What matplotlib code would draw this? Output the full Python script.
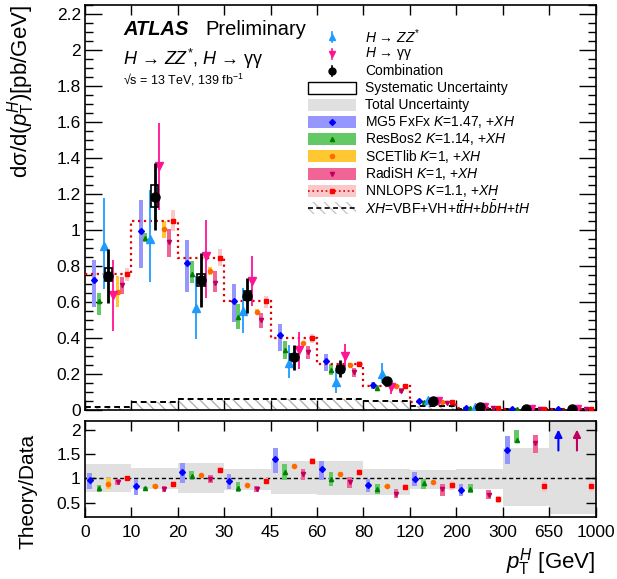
import numpy as np
import matplotlib
matplotlib.use("Agg")
from matplotlib import pyplot as plt
from matplotlib.lines import Line2D
from matplotlib.patches import Rectangle
from matplotlib.ticker import FixedLocator, MultipleLocator, FuncFormatter

plt.rcParams["font.family"] = ["Liberation Sans", "DejaVu Sans"]
plt.rcParams["mathtext.fontset"] = "custom"
plt.rcParams["mathtext.rm"] = "Liberation Sans"
plt.rcParams["mathtext.it"] = "Liberation Sans:italic"
plt.rcParams["mathtext.bf"] = "Liberation Sans:bold"

nan = np.nan

# pT bin edges, drawn with equal width
bin_labels = ["0", "10", "20", "30", "45", "60", "80", "120", "200", "300", "650", "1000"]

# combination [pb/GeV]
comb = [0.744, 1.181, 0.719, 0.633, 0.293, 0.226, 0.157, 0.046, 0.012, 0.003, 0.0004]
comb_lo = [0.593, 1.00, 0.569, 0.537, 0.222, 0.180, 0.139, 0.040, 0.010, 0.002, 0.0002]
comb_hi = [0.894, 1.37, 0.870, 0.731, 0.361, 0.278, 0.176, 0.052, 0.014, 0.004, 0.0006]
comb_syst_lo = [0.713, 1.126, 0.689, 0.611, 0.274, 0.211, 0.150, 0.044, 0.011, 0.0025, 0.0003]
comb_syst_hi = [0.787, 1.250, 0.756, 0.657, 0.311, 0.241, 0.165, 0.048, 0.013, 0.0035, 0.0005]

# H -> ZZ*
zz = [0.907, 0.948, 0.563, 0.546, 0.259, 0.152, 0.200, 0.055, 0.016, nan, nan]
zz_lo = [0.670, 0.707, 0.390, 0.426, 0.176, 0.093, 0.148, 0.037, 0.010, nan, nan]
zz_hi = [1.176, 1.220, 0.741, 0.676, 0.361, 0.219, 0.259, 0.065, 0.022, nan, nan]

# H -> gamma gamma
gg = [0.635, 1.352, 0.856, 0.713, 0.333, 0.300, 0.124, 0.046, 0.015, 0.004, 0.001]
gg_lo = [0.435, 1.110, 0.620, 0.574, 0.226, 0.226, 0.089, 0.040, 0.012, 0.003, 0.0005]
gg_hi = [0.833, 1.593, 1.056, 0.852, 0.430, 0.367, 0.150, 0.052, 0.018, 0.005, 0.002]

# XH contribution [pb/GeV]
xh = [0.015, 0.043, 0.056, 0.061, 0.057, 0.056, 0.045, 0.018, 0.004, 0.001, 0.0002]

# theory / data (centre, band low, band high)
mg5_r = [0.965, 0.84, 1.13, 0.95, 1.41, 1.19, 0.86, 0.98, 0.76, 1.58, 3.0]
mg5_r_lo = [0.77, 0.665, 0.91, 0.77, 1.12, 0.96, 0.72, 0.84, 0.64, 1.30, nan]
mg5_r_hi = [1.12, 0.985, 1.31, 1.10, 1.63, 1.36, 0.98, 1.13, 0.88, 1.87, nan]

rb_r = [0.81, 0.81, 1.05, 0.81, 1.13, 0.98, 0.77, 0.91, 0.79, 1.80, nan]
rb_r_lo = [0.71, 0.79, 0.98, 0.71, 0.96, 0.85, 0.67, 0.79, 0.70, 1.73, nan]
rb_r_hi = [0.87, 0.83, 1.15, 0.93, 1.30, 1.13, 0.88, 0.98, 0.88, 2.01, nan]

sc_r = [0.88, 0.85, 1.07, 0.86, 1.26, 1.10, 0.84, 0.93, nan, nan, nan]
sc_r_lo = [0.77, 0.81, 1.04, 0.84, 1.23, 1.07, 0.81, 0.91, nan, nan, nan]
sc_r_hi = [1.00, 0.89, 1.10, 0.88, 1.29, 1.13, 0.87, 0.95, nan, nan, nan]

rs_r = [0.93, 0.79, 0.98, 0.79, 1.10, 0.93, 0.67, 0.78, 0.65, 1.73, 3.0]
rs_r_lo = [0.86, 0.72, 0.91, 0.72, 0.96, 0.81, 0.60, 0.63, 0.57, 1.52, nan]
rs_r_hi = [0.99, 0.85, 1.07, 0.85, 1.20, 1.03, 0.77, 0.88, 0.76, 1.90, nan]

nn_r = [1.01, 0.89, 1.17, 0.95, 1.36, 1.13, 0.83, 0.87, 0.57, 0.85, 0.84]
nn_r_lo = [0.96, 0.84, 1.11, 0.89, 1.27, 1.05, 0.78, 0.75, 0.50, 0.72, 0.72]
nn_r_hi = [1.06, 0.94, 1.24, 1.00, 1.43, 1.20, 0.89, 0.94, 0.63, 0.94, 0.94]

# total uncertainty of the data in the ratio
tot_r_lo = [0.72, 0.79, 0.70, 0.76, 0.67, 0.66, 0.66, 0.79, 0.77, 0.43, 0.27]
tot_r_hi = [1.30, 1.22, 1.31, 1.20, 1.36, 1.36, 1.20, 1.18, 1.20, 1.62, 2.50]

zz_c = "#1e9bff"
gg_c = "#ff1493"
xh_hatch = "\\\\\\"

# name, ratio, lo, hi, band colour, marker colour, marker, offset top, offset ratio
theories = [
    (r"MG5 FxFx $K$=1.47, +$XH$", mg5_r, mg5_r_lo, mg5_r_hi, "#9696ff", "#0000ff", "D", 0.2, 0.1),
    (r"ResBos2 $K$=1.14, +$XH$", rb_r, rb_r_lo, rb_r_hi, "#64c864", "#008000", "^", 0.3, 0.3),
    (r"SCETlib $K$=1, +$XH$", sc_r, sc_r_lo, sc_r_hi, "#ffc832", "#ff6a00", "o", 0.7, 0.5),
    (r"RadiSH $K$=1, +$XH$", rs_r, rs_r_lo, rs_r_hi, "#f06496", "#c00060", "v", 0.8, 0.7),
    (r"NNLOPS $K$=1.1, +$XH$", nn_r, nn_r_lo, nn_r_hi, "#fac8c8", "#ff0000", "s", 0.9, 0.9),
]
arrow_off = {"#0000ff": 0.2, "#c00060": 0.6}

fig = plt.figure(figsize=(6.17, 5.79), dpi=100)
ax = fig.add_axes([0.1378, 0.2927, 0.8274, 0.6987])
rax = fig.add_axes([0.1378, 0.1071, 0.8274, 0.1658])

n = len(comb)
edges = np.arange(n + 1)
left = np.arange(n)
comb_a = np.array(comb)
ratio_top = 2.19

# XH hatched area
ax.bar(left, xh, width=1, align="edge", facecolor="none", edgecolor="#b4b4b4",
       hatch=xh_hatch, linewidth=0, zorder=1)
ax.hlines(xh, left, left + 1, colors="k", linestyles=(0, (3, 2)), linewidth=1.4, zorder=2)

# total uncertainty band in ratio
rax.bar(left, np.array(tot_r_hi) - np.array(tot_r_lo), bottom=tot_r_lo, width=1,
        align="edge", color="#e0e0e0", linewidth=0, zorder=1)
rax.axhline(1, color="k", linestyle=(0, (3, 2)), linewidth=1, zorder=2)

for label, r, lo, hi, band, mc, mk, off_t, off_r in theories:
    r = np.array(r)
    lo = np.array(lo)
    hi = np.array(hi)
    # top panel: theory = ratio * data
    ax.bar(left + off_t, (hi - lo) * comb_a, bottom=lo * comb_a, width=0.085,
           color=band, linewidth=0, zorder=3)
    ax.plot(left + off_t, r * comb_a, ls="none", marker=mk, color=mc, ms=3, zorder=4)
    # ratio panel
    rax.bar(left + off_r, hi - lo, bottom=lo, width=0.1, color=band, linewidth=0, zorder=3)
    inside = r < ratio_top
    rax.plot((left + off_r)[inside], r[inside], ls="none", marker=mk, color=mc, ms=3, zorder=4)
    for i in np.where(~inside & ~np.isnan(r))[0]:
        x = i + arrow_off.get(mc, off_r)
        rax.annotate("", xy=(x, 2.07), xytext=(x, 1.52),
                     arrowprops=dict(arrowstyle="-|>", color=mc, lw=1.5, mutation_scale=11))

# NNLOPS step line
ax.stairs(np.array(nn_r) * comb_a, edges, color="#e00000", linestyle=":", linewidth=1.6,
          baseline=None, zorder=3)

# data
zz_a, gg_a = np.array(zz), np.array(gg)
ax.errorbar(left + 0.4, zz_a, yerr=[zz_a - np.array(zz_lo), np.array(zz_hi) - zz_a],
            fmt="^", color=zz_c, ms=6, elinewidth=1.3, capsize=0, zorder=5)
ax.errorbar(left + 0.6, gg_a, yerr=[gg_a - np.array(gg_lo), np.array(gg_hi) - gg_a],
            fmt="v", color=gg_c, ms=6, elinewidth=1.3, capsize=0, zorder=5)
ax.bar(left + 0.5, np.array(comb_syst_hi) - np.array(comb_syst_lo), bottom=comb_syst_lo,
       width=0.16, fill=False, edgecolor="k", linewidth=1.2, zorder=6)
ax.errorbar(left + 0.5, comb_a, yerr=[comb_a - np.array(comb_lo), np.array(comb_hi) - comb_a],
            fmt="o", color="k", ms=6.5, elinewidth=2, capsize=0, zorder=7)

# axes
fmt = FuncFormatter(lambda v, p: f"{v:g}")
for a in (ax, rax):
    a.set_xlim(0, n)
    a.xaxis.set_major_locator(FixedLocator(edges))
    a.tick_params(axis="both", which="both", direction="in", top=True, right=True,
                  labelsize=12.5, width=1)
    a.tick_params(axis="x", which="major", length=7)
    for s in a.spines.values():
        s.set_linewidth(1.2)
ax.tick_params(labelbottom=False)
ax.set_ylim(0, 2.25)
ax.yaxis.set_major_locator(MultipleLocator(0.2))
ax.yaxis.set_minor_locator(MultipleLocator(0.05))
ax.yaxis.set_major_formatter(fmt)
ax.tick_params(axis="y", which="major", length=12, pad=3)
ax.tick_params(axis="y", which="minor", length=6)

rax.set_ylim(0.2, ratio_top)
rax.yaxis.set_major_locator(FixedLocator([0.5, 1, 1.5, 2]))
rax.yaxis.set_major_formatter(fmt)
rax.tick_params(axis="y", which="major", length=7, pad=3)
rax.set_xticklabels(bin_labels)
rax.tick_params(axis="x", pad=6)

ax.set_ylabel("dσ/d($p_{\\mathrm{T}}^{H}$)[pb/GeV]", fontsize=16, loc="top")
ax.yaxis.set_label_coords(-0.094, 1.0)
rax.set_ylabel("Theory/Data", fontsize=15)
rax.yaxis.set_label_coords(-0.094, 0.27)
rax.set_xlabel("$p_{\\mathrm{T}}^{H}$ [GeV]", fontsize=16, loc="right")
rax.xaxis.set_label_coords(1.0, -0.3)

# labels
ax.text(0.075, 0.94, "ATLAS", fontsize=14.5, fontweight="bold", fontstyle="italic",
        transform=ax.transAxes, va="center")
ax.text(0.235, 0.94, "Preliminary", fontsize=14.5, transform=ax.transAxes, va="center")
ax.text(0.075, 0.866, "$H$ → $ZZ^{*}$, $H$ → γγ", fontsize=13,
        transform=ax.transAxes, va="center")
ax.text(0.075, 0.815, "√s = 13 TeV, 139 fb$^{-1}$", fontsize=9,
        transform=ax.transAxes, va="center")

# legend, drawn by hand in axes fractions so that rows are evenly spaced
leg_x, leg_w, leg_h = 0.4368, 0.094, 0.0297
leg_y0, leg_dy = 0.9216, 0.0423
leg_tx = 0.5485


def legend_row(i, label, face=None, edge="none", hatch=None, lw=0, line=None, marker=None,
               mcolor="k", ms=3, errbar=False):
    yc = leg_y0 - i * leg_dy
    if face is not None or hatch is not None:
        ax.add_patch(Rectangle((leg_x, yc - leg_h / 2), leg_w, leg_h, transform=ax.transAxes,
                               facecolor=face if face else "none", edgecolor=edge,
                               hatch=hatch, linewidth=lw, clip_on=False, zorder=8))
    xc = leg_x + leg_w / 2
    if line is not None:
        ax.add_line(Line2D([leg_x, leg_x + leg_w], [yc, yc], transform=ax.transAxes,
                           clip_on=False, zorder=9, **line))
    if errbar:
        ax.add_line(Line2D([xc, xc], [yc - 0.012, yc + 0.012], transform=ax.transAxes,
                           color=mcolor, lw=1.2, clip_on=False, zorder=9))
    if marker is not None:
        ax.add_line(Line2D([xc], [yc], transform=ax.transAxes, marker=marker, color=mcolor,
                           ms=ms, ls="none", clip_on=False, zorder=10))
    ax.text(leg_tx, yc, label, transform=ax.transAxes, va="center", ha="left", fontsize=10)


legend_row(0, "$H$ → $ZZ^{*}$", marker="^", mcolor=zz_c, ms=5, errbar=True)
legend_row(1, "$H$ → γγ", marker="v", mcolor=gg_c, ms=5, errbar=True)
legend_row(2, "Combination", marker="o", mcolor="k", ms=5, errbar=True)
legend_row(3, "Systematic Uncertainty", face="white", edge="black", lw=1)
legend_row(4, "Total Uncertainty", face="#e0e0e0")
for k, (label, r, lo, hi, band, mc, mk, off_t, off_r) in enumerate(theories):
    line = dict(color="#e00000", ls=":", lw=1.2) if mk == "s" else None
    legend_row(5 + k, label, face=band, line=line, marker=mk, mcolor=mc, ms=3)
legend_row(10, r"$XH$=VBF+VH+$t\bar{t}H$+$b\bar{b}H$+$tH$", hatch=xh_hatch, edge="#c8c8c8",
           line=dict(color="k", ls=(0, (3, 2)), lw=1.2))

fig.savefig("out.png", dpi=100)
